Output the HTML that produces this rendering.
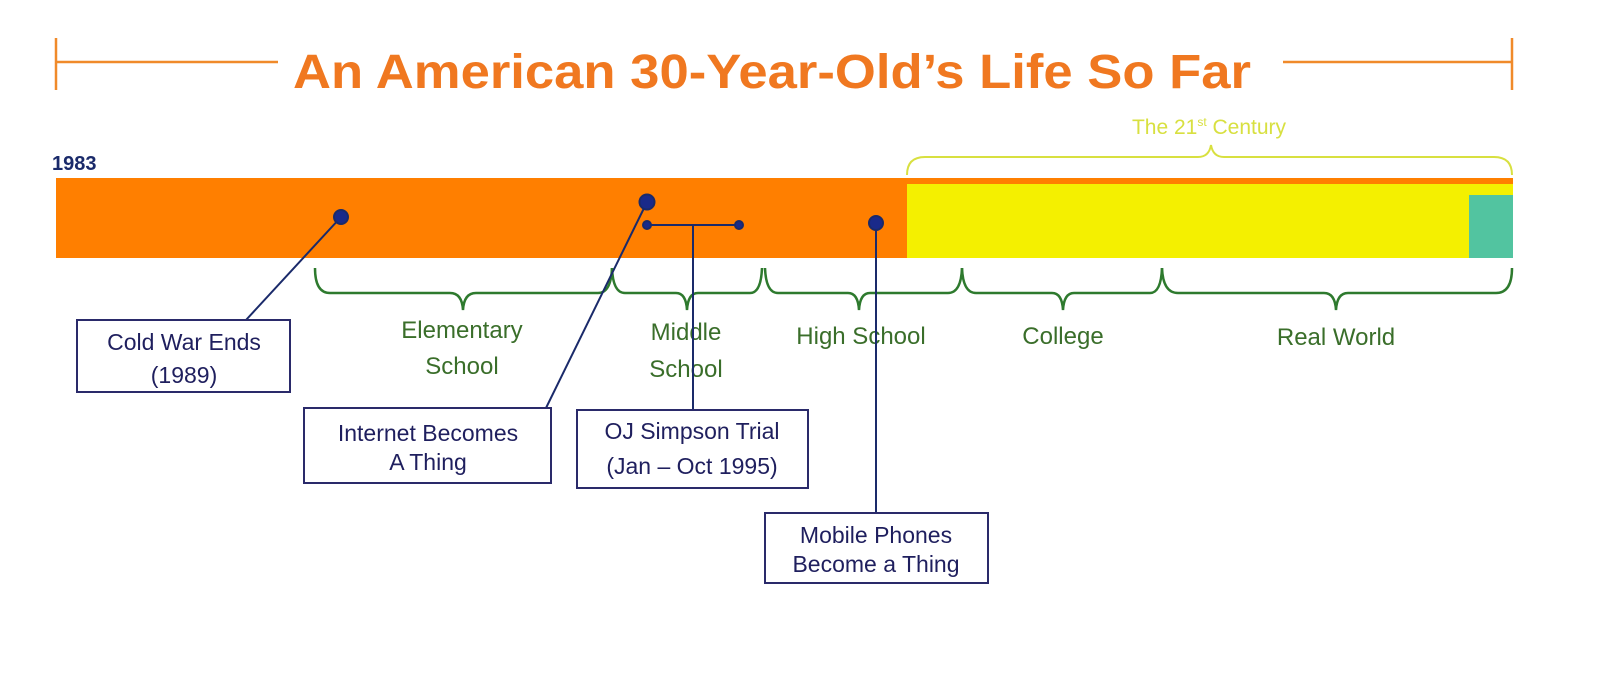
<!DOCTYPE html>
<html><head><meta charset="utf-8"><style>
html,body{margin:0;padding:0;background:#fff;}
svg{display:block;}
text{font-family:"Liberation Sans",sans-serif;}
</style></head><body>
<svg width="1603" height="700" xmlns="http://www.w3.org/2000/svg">
<!-- title -->
<g stroke="#f08a2a" stroke-width="2.5" fill="none">
<line x1="56" y1="62" x2="278" y2="62"/><line x1="56" y1="38" x2="56" y2="90"/>
<line x1="1283" y1="62" x2="1512" y2="62"/><line x1="1512" y1="38" x2="1512" y2="90"/>
</g>
<text x="772" y="88" text-anchor="middle" font-size="48" font-weight="bold" fill="#f07820" textLength="958" lengthAdjust="spacingAndGlyphs">An American 30-Year-Old’s Life So Far</text>
<!-- 21st century -->
<text x="1209" y="134" text-anchor="middle" font-size="21" fill="#d8e040">The 21<tspan font-size="12" dy="-8">st</tspan><tspan dy="8"> Century</tspan></text>
<path d="M907,175 Q907,157 925,157 L1198,157 Q1209,157 1211,145 Q1213,157 1224,157 L1494,157 Q1512,157 1512,175" stroke="#d8e040" stroke-width="2" fill="none"/>
<text x="52" y="170" font-size="20" font-weight="bold" fill="#1a2a6a">1983</text>
<!-- bar -->
<rect x="56" y="178" width="1457" height="80" fill="#ff7f00"/>
<rect x="907" y="184" width="606" height="74" fill="#f4f000"/>
<rect x="1469" y="195" width="44" height="63" fill="#52c4a0"/>
<!-- braces -->
<g stroke="#2e7a2e" stroke-width="2.5" fill="none">
<path d="M315,268 Q315,293 330,293 L450,293 Q462,293 463,310 Q464,293 476,293 L598,293 Q611,293 612,268"/>
<path d="M612,268 Q613,293 625,293 L676,293 Q686,293 687,310 Q688,293 698,293 L750,293 Q761,293 762,268"/>
<path d="M765,268 Q766,293 778,293 L848,293 Q858,293 859,310 Q860,293 870,293 L948,293 Q961,293 962,268"/>
<path d="M962,268 Q963,293 976,293 L1052,293 Q1062,293 1063,310 Q1064,293 1074,293 L1150,293 Q1161,293 1162,268"/>
<path d="M1162,268 Q1163,293 1178,293 L1324,293 Q1335,293 1336,310 Q1337,293 1348,293 L1496,293 Q1512,293 1512,268"/>
</g>
<g font-size="24" fill="#3a6e2a" text-anchor="middle">
<text x="462" y="338">Elementary</text><text x="462" y="374">School</text>
<text x="686" y="340">Middle</text><text x="686" y="377">School</text>
<text x="861" y="344">High School</text>
<text x="1063" y="344">College</text>
<text x="1336" y="345">Real World</text>
</g>
<!-- connectors -->
<g stroke="#1a2a6a" stroke-width="2" fill="#1a2a8a">
<line x1="341" y1="217" x2="246" y2="320"/>
<line x1="647" y1="202" x2="546" y2="408"/>
<line x1="647" y1="225" x2="739" y2="225"/>
<line x1="693" y1="225" x2="693" y2="410"/>
<line x1="876" y1="223" x2="876" y2="513"/>
<circle cx="341" cy="217" r="7"/><circle cx="647" cy="202" r="7.5"/>
<circle cx="647" cy="225" r="4"/><circle cx="739" cy="225" r="4"/>
<circle cx="876" cy="223" r="7"/>
</g>
<g stroke="#2a2a6a" stroke-width="2" fill="#fff">
<rect x="77" y="320" width="213" height="72"/>
<rect x="304" y="408" width="247" height="75"/>
<rect x="577" y="410" width="231" height="78"/>
<rect x="765" y="513" width="223" height="70"/>
</g>
<g font-size="23" fill="#1f1f5e" text-anchor="middle">
<text x="184" y="350">Cold War Ends</text><text x="184" y="383">(1989)</text>
<text x="428" y="441">Internet Becomes</text><text x="428" y="470">A Thing</text>
<text x="692" y="439">OJ Simpson Trial</text><text x="692" y="474">(Jan – Oct 1995)</text>
<text x="876" y="543">Mobile Phones</text><text x="876" y="572">Become a Thing</text>
</g>
</svg>
</body></html>
